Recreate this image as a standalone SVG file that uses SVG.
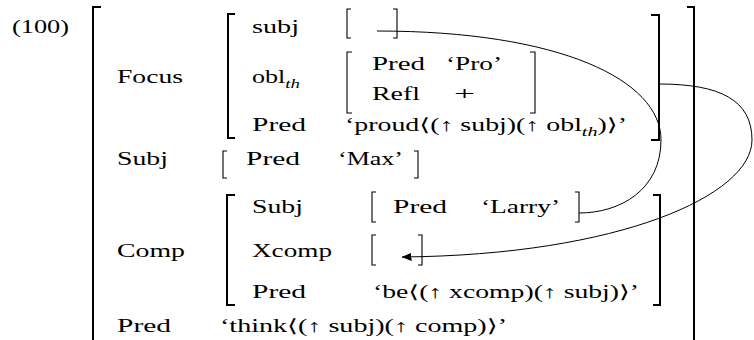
<svg xmlns="http://www.w3.org/2000/svg" width="754" height="340" viewBox="0 0 754 340">
<style>
text{font-family:"Liberation Serif","DejaVu Serif",serif;font-size:18px;fill:#000}
.it{font-style:italic;font-size:13px}
.bk{fill:none;stroke:#000;stroke-width:2}
.bs{fill:none;stroke:#000;stroke-width:1.1}
.cn{fill:none;stroke:#000;stroke-width:1}
</style>
<defs>
<marker id="ah" viewBox="0 0 10 8" refX="9.5" refY="4" markerWidth="10" markerHeight="8" markerUnits="userSpaceOnUse" orient="auto">
<path d="M0,0 L10,4 L0,8 Z" fill="#000"/>
</marker>
</defs>
<rect width="754" height="340" fill="#fff"/>
<text x="12" y="33" textLength="57" lengthAdjust="spacingAndGlyphs">(100)</text>
<g id="outer">
<path class="bk" d="M101,7 H93 V340"/>
<path class="bk" d="M687,7 H694 V340"/>
<text x="117" y="83" textLength="66" lengthAdjust="spacingAndGlyphs">Focus</text>
<text x="117" y="165" textLength="51" lengthAdjust="spacingAndGlyphs">Subj</text>
<text x="117" y="257" textLength="68" lengthAdjust="spacingAndGlyphs">Comp</text>
<text x="117" y="332" textLength="54" lengthAdjust="spacingAndGlyphs">Pred</text>
<text x="220" y="332" textLength="287" lengthAdjust="spacingAndGlyphs">‘think⟨(↑ subj)(↑ comp)⟩’</text>
</g>
<g id="focus">
<path class="bk" d="M235,14 H228 V138 H235"/>
<path class="bk" d="M651,15 H659 V140 H651"/>
<text x="252" y="33" textLength="47" lengthAdjust="spacingAndGlyphs">subj</text>
<text x="252" y="83" textLength="48" lengthAdjust="spacingAndGlyphs">obl<tspan class="it" dy="5">th</tspan></text>
<text x="252" y="131" textLength="54" lengthAdjust="spacingAndGlyphs">Pred</text>
<text x="345" y="131" textLength="282" lengthAdjust="spacingAndGlyphs">‘proud⟨(↑ subj)(↑ obl<tspan class="it" dy="5">th</tspan><tspan dy="-5">)⟩’</tspan></text>
</g>
<g id="focus-subj">
<path class="bs" d="M351,9 H347 V38 H351"/>
<path class="bs" d="M393,9 H397 V38 H393"/>
</g>
<g id="focus-obl">
<path class="bs" d="M352,52 H347 V113 H352"/>
<path class="bs" d="M530,52 H535 V113 H530"/>
<text x="372" y="70" textLength="53" lengthAdjust="spacingAndGlyphs">Pred</text>
<text x="446" y="70" textLength="56" lengthAdjust="spacingAndGlyphs">‘Pro’</text>
<text x="372" y="100" textLength="48" lengthAdjust="spacingAndGlyphs">Refl</text>
<text x="454" y="100" textLength="21" lengthAdjust="spacingAndGlyphs">+</text>
</g>
<g id="subj">
<path class="bs" d="M227,151 H223 V178 H227"/>
<path class="bs" d="M414,151 H418 V178 H414"/>
<text x="246" y="165" textLength="54" lengthAdjust="spacingAndGlyphs">Pred</text>
<text x="338" y="165" textLength="65" lengthAdjust="spacingAndGlyphs">‘Max’</text>
</g>
<g id="comp">
<path class="bk" d="M235,195 H227 V305 H235"/>
<path class="bk" d="M653,195 H660 V305 H653"/>
<text x="252" y="213" textLength="51" lengthAdjust="spacingAndGlyphs">Subj</text>
<text x="252" y="257" textLength="80" lengthAdjust="spacingAndGlyphs">Xcomp</text>
<text x="252" y="298" textLength="54" lengthAdjust="spacingAndGlyphs">Pred</text>
<text x="373" y="298" textLength="266" lengthAdjust="spacingAndGlyphs">‘be⟨(↑ xcomp)(↑ subj)⟩’</text>
</g>
<g id="comp-subj">
<path class="bs" d="M376,192 H372 V222 H376"/>
<path class="bs" d="M575,192 H579 V222 H575"/>
<text x="393" y="213" textLength="54" lengthAdjust="spacingAndGlyphs">Pred</text>
<text x="481" y="213" textLength="79" lengthAdjust="spacingAndGlyphs">‘Larry’</text>
</g>
<g id="comp-xcomp">
<path class="bs" d="M376,235 H372 V265 H376"/>
<path class="bs" d="M418,235 H422 V265 H418"/>
</g>
<g id="connectors">
<path class="cn" d="M377,31 C560,31 661,80 661,140 C661,190 620,213 579,213"/>
<path class="cn" d="M659,84 C720,84 752,100 752,140 C752,195 620,255 402,257" marker-end="url(#ah)"/>
</g>
</svg>
